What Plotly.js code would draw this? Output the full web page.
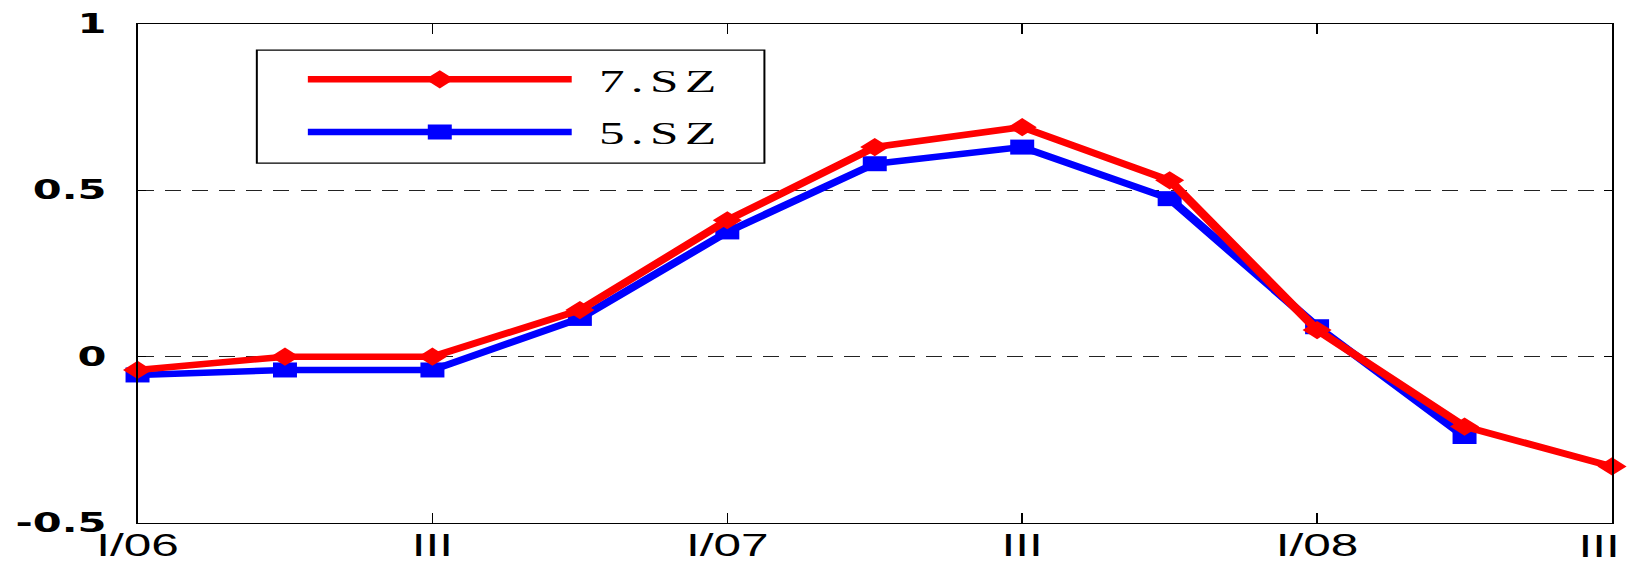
<!DOCTYPE html>
<html>
<head>
<meta charset="utf-8">
<script src="https://cdn.plot.ly/plotly-3.0.1.min.js"></script>
<style>
  html, body { margin: 0; padding: 0; overflow: hidden; background: #fff; }
  #plot { width: 1018px; height: 565px; transform: scaleX(1.5992); transform-origin: 0 0; }
  .legendtext { letter-spacing: 4px; }
</style>
</head>
<body>
<div id="plot"></div>
<script>
// Quarters (x categories)
const categories = ['I/06', 'II', 'III', 'IV', 'I/07', 'II', 'III', 'IV', 'I/08', 'II', 'III'];
// Series values
const sz7 = [-0.04, 0.0, 0.0, 0.14, 0.41, 0.63, 0.69, 0.53, 0.08, -0.21, -0.33];
const sz5 = [-0.055, -0.04, -0.04, 0.115, 0.375, 0.58, 0.63, 0.475, 0.09, -0.24];
// Series names
const seriesNames = ['7.SZ', '5.SZ'];
// Y tick values / labels
const yTickValues = [-0.5, 0, 0.5, 1];
const yTickLabels = ['-0.5', '0', '0.5', '1'];

const xIndex = categories.map((_, i) => i);
const xTickVals = xIndex.filter(i => i % 2 === 0);
const lastIdx = xTickVals[xTickVals.length - 1];
// the last label sits at the very right edge: it is drawn right-aligned so it stays inside the picture
const xTickText = xTickVals.map(i => (i === lastIdx ? '' : categories[i]));

const traceBlue = {
  x: xIndex.slice(0, sz5.length), y: sz5, name: '\u00a0' + seriesNames[1],
  type: 'scatter', mode: 'lines+markers', cliponaxis: false,
  legendgroup: 'b', legendrank: 2,
  line: { color: '#0000ff', width: 6.5 },
  marker: { symbol: 'square', size: 15, color: '#0000ff' }
};
const traceRed = {
  x: xIndex, y: sz7, name: '\u00a0' + seriesNames[0],
  type: 'scatter', mode: 'lines+markers', cliponaxis: false,
  legendgroup: 'r', legendrank: 1,
  line: { color: '#ff0000', width: 6.5 },
  marker: { symbol: 'diamond', size: 14, color: '#ff0000' }
};

const W = 1018, L = 86, R = 10, T = 24, B = 42;
const plotW = W - L - R, plotH = 565 - T - B;
const px = v => (v - L) / plotW;
const py = v => 1 - (v - T) / plotH;
const tickFont = { family: 'Liberation Sans', size: 31, color: '#000' };

const layout = {
  width: W, height: 565,
  margin: { l: L, r: R, t: T, b: B, pad: 0 },
  paper_bgcolor: '#ffffff', plot_bgcolor: '#ffffff',
  showlegend: true,
  legend: {
    x: px(187.5), y: py(52), xanchor: 'left', yanchor: 'top',
    bgcolor: 'rgba(0,0,0,0)', borderwidth: 0,
    itemwidth: 165, tracegroupgap: 8, traceorder: 'grouped',
    font: { family: 'Liberation Serif', size: 32, color: '#000' }
  },
  xaxis: {
    range: [0, 10], tickmode: 'array', tickvals: xTickVals, ticktext: xTickText,
    showgrid: false, zeroline: false,
    showline: true, linecolor: '#000', linewidth: 1.25, mirror: 'ticks',
    ticks: 'inside', ticklen: 10, tickwidth: 1, tickcolor: '#000',
    ticklabelstandoff: -5,
    tickfont: tickFont
  },
  yaxis: {
    range: [-0.5, 1], tickmode: 'array', tickvals: yTickValues, ticktext: yTickLabels,
    showgrid: true, gridcolor: '#222', gridwidth: 1, griddash: '10px,7px',
    zeroline: false,
    showline: true, linecolor: '#000', linewidth: 1.25, mirror: 'ticks',
    ticks: 'inside', ticklen: 5, tickwidth: 1, tickcolor: '#000',
    ticklabelstandoff: 13,
    tickfont: { family: 'DejaVu Sans', size: 26, weight: 'bold', color: '#000' }
  },
  annotations: [{
    x: lastIdx, xref: 'x', y: 0, yref: 'paper',
    xanchor: 'right', yanchor: 'top', xshift: 7, yshift: -4,
    text: categories[lastIdx], showarrow: false, font: tickFont
  }],
  shapes: [{
    type: 'rect', xref: 'paper', yref: 'paper',
    x0: px(160.6), x1: px(478), y0: py(163), y1: py(50),
    line: { color: '#000', width: 1.25 }, fillcolor: 'rgba(0,0,0,0)', layer: 'above'
  }]
};

Plotly.newPlot('plot', [traceBlue, traceRed], layout, { staticPlot: true, displayModeBar: false });
</script>
</body>
</html>
